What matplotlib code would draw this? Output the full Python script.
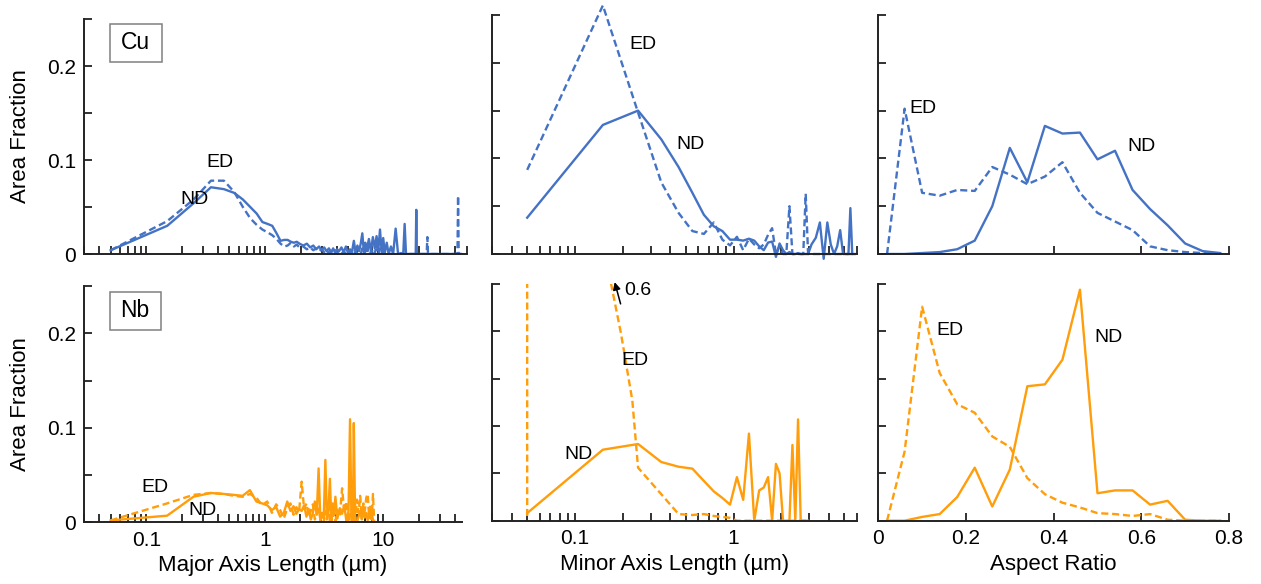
import numpy as np
import matplotlib.pyplot as plt
from matplotlib.ticker import LogLocator, NullFormatter
from matplotlib.patches import Rectangle

plt.rcParams['font.family'] = ['Liberation Sans', 'DejaVu Sans']

BLUE = '#4472C4'
ORANGE = '#FF9D0A'

# ---- Cu, major axis length (um) ----
cu_major_x = [0.05, 0.15, 0.25, 0.35, 0.45, 0.55, 0.65, 0.75, 0.85, 0.95,
              1.05, 1.15, 1.25, 1.35, 1.45, 1.55, 1.65, 1.75, 1.85, 1.95,
              2.1, 2.25, 2.4, 2.55, 2.7, 2.85, 3.0, 3.15, 3.3, 3.45,
              3.6, 3.75, 3.9, 4.05, 4.2, 4.4, 4.6, 4.8, 5.0, 5.2,
              5.4, 5.6, 5.8, 6.0, 6.2, 6.4, 6.6, 6.8, 7.0, 7.2,
              7.5, 7.8, 8.1, 8.4, 8.7, 9.0, 9.3, 9.6, 9.9, 10.2,
              10.6, 11.0, 11.5, 12.0, 12.6, 13.2, 14.0, 14.6, 15.0, 15.4,
              16.5, 18.0, 18.6, 18.8, 19.0, 20.5, 22.5, 23.0, 23.3, 23.6,
              26.0, 32.0, 38.0, 41.8, 42.3, 42.8, 45.0]
cu_major_nd = [0.004, 0.030, 0.054, 0.071, 0.069, 0.065, 0.058, 0.050, 0.043, 0.034,
               0.032, 0.030, 0.022, 0.014, 0.015, 0.015, 0.013, 0.012, 0.013, 0.011,
               0.009, 0.011, 0.007, 0.009, 0.005, 0.008, 0.004, 0.007, 0.003, 0.006,
               0.002, 0.006, 0.001, 0.005, 0.003, 0.007, 0.002, 0.008, 0.001, 0.005,
               0.002, 0.014, 0.001, 0.009, 0.003, 0.011, 0.022, 0.002, 0.012, 0.005,
               0.016, 0.003, 0.018, 0.006, 0.019, 0.004, 0.026, 0.002, 0.017, 0.001,
               0.012, 0.000, 0.008, 0.000, 0.027, 0.000, 0.001, 0.000, 0.032, 0.000,
               0.000, 0.000, 0.000, 0.047, 0.000, 0.000, 0.000, 0.000, 0.000, 0.000,
               0.000, 0.000, 0.000, 0.000, 0.000, 0.000, 0.000]
cu_major_ed = [0.004, 0.035, 0.058, 0.078, 0.078, 0.066, 0.050, 0.038, 0.031, 0.026,
               0.023, 0.020, 0.016, 0.011, 0.008, 0.009, 0.012, 0.008, 0.010, 0.007,
               0.008, 0.005, 0.007, 0.004, 0.006, 0.003, 0.005, 0.002, 0.004, 0.001,
               0.003, 0.001, 0.004, 0.000, 0.002, 0.000, 0.003, 0.000, 0.002, 0.000,
               0.004, 0.000, 0.003, 0.000, 0.002, 0.000, 0.006, 0.000, 0.004, 0.000,
               0.008, 0.000, 0.005, 0.000, 0.010, 0.000, 0.006, 0.000, 0.004, 0.000,
               0.000, 0.000, 0.000, 0.000, 0.000, 0.000, 0.000, 0.000, 0.000, 0.000,
               0.000, 0.000, 0.000, 0.000, 0.000, 0.000, 0.000, 0.000, 0.018, 0.000,
               0.000, 0.000, 0.000, 0.000, 0.062, 0.000, 0.000]

# ---- Cu, minor axis length (um) ----
cu_minor_x = [0.05, 0.15, 0.25, 0.35, 0.45, 0.55, 0.65, 0.75, 0.85, 0.95,
              1.05, 1.15, 1.25, 1.35, 1.45, 1.55, 1.65, 1.75, 1.85, 1.95,
              2.05, 2.15, 2.25, 2.35, 2.45, 2.55, 2.65, 2.75, 2.85, 2.95,
              3.1, 3.3, 3.5, 3.7, 3.9, 4.1, 4.3, 4.5, 4.7, 4.9,
              5.1, 5.3, 5.45, 5.6, 5.8]
cu_minor_nd = [0.038, 0.135, 0.150, 0.120, 0.091, 0.064, 0.041, 0.029, 0.024, 0.015,
               0.015, 0.014, 0.016, 0.014, 0.008, 0.004, 0.012, 0.013, -0.003, 0.011,
               0.004, 0.000, 0.002, 0.000, 0.000, 0.001, 0.000, 0.000, 0.000, 0.000,
               0.010, 0.017, 0.033, -0.005, 0.033, 0.010, 0.000, 0.008, 0.025, 0.000,
               0.000, 0.000, 0.048, 0.000, 0.000]
cu_minor_ed = [0.088, 0.260, 0.148, 0.075, 0.043, 0.024, 0.021, 0.033, 0.015, 0.009,
               0.018, 0.004, 0.016, 0.010, 0.006, 0.010, 0.020, 0.027, 0.000, 0.008,
               0.000, 0.000, 0.050, 0.000, 0.000, 0.000, 0.000, 0.000, 0.063, 0.000,
               0.000, 0.000, 0.000, 0.000, 0.000, 0.000, 0.000, 0.000, 0.000, 0.000,
               0.000, 0.000, 0.000, 0.000, 0.000]

# ---- aspect ratio bins ----
ar_x = [0.02, 0.06, 0.10, 0.14, 0.18, 0.22, 0.26, 0.30, 0.34, 0.38,
        0.42, 0.46, 0.50, 0.54, 0.58, 0.62, 0.66, 0.70, 0.74, 0.78]
cu_ar_nd = [0.000, 0.000, 0.001, 0.002, 0.005, 0.014, 0.050, 0.111, 0.075, 0.134,
            0.126, 0.127, 0.099, 0.108, 0.067, 0.047, 0.030, 0.011, 0.003, 0.001]
cu_ar_ed = [0.000, 0.152, 0.064, 0.061, 0.067, 0.066, 0.091, 0.083, 0.073, 0.081,
            0.096, 0.064, 0.043, 0.034, 0.025, 0.008, 0.004, 0.002, 0.001, 0.000]
nb_ar_nd = [0.000, 0.000, 0.004, 0.007, 0.025, 0.056, 0.015, 0.054, 0.142, 0.144,
            0.170, 0.244, 0.029, 0.032, 0.032, 0.017, 0.021, 0.001, 0.000, 0.000]
nb_ar_ed = [0.000, 0.073, 0.226, 0.156, 0.123, 0.114, 0.089, 0.078, 0.045, 0.028,
            0.019, 0.014, 0.008, 0.007, 0.005, 0.007, 0.001, 0.000, 0.000, 0.000]

# ---- Nb, major axis length (um) ----
nb_major_x = [0.05, 0.15, 0.25, 0.35, 0.45, 0.55, 0.65, 0.75, 0.85, 0.95,
              1.05, 1.15, 1.25, 1.35, 1.45, 1.55, 1.65, 1.75, 1.85, 1.95,
              2.05, 2.15, 2.25, 2.35, 2.45, 2.55, 2.65, 2.75, 2.85, 2.95,
              3.05, 3.15, 3.25, 3.35, 3.45, 3.55, 3.65, 3.75, 3.85, 3.95,
              4.1, 4.3, 4.5, 4.7, 4.9, 5.1, 5.25, 5.4, 5.55, 5.65,
              5.8, 6.0, 6.2, 6.4, 6.6, 6.8, 7.0, 7.2, 7.4, 7.6,
              7.8, 8.0, 8.2, 8.4]
nb_major_nd = [0.002, 0.007, 0.027, 0.031, 0.030, 0.029, 0.028, 0.034, 0.022, 0.020,
               0.018, 0.013, 0.016, 0.006, 0.010, 0.022, 0.012, 0.017, 0.009, 0.014,
               0.012, 0.018, 0.006, 0.014, 0.003, 0.010, 0.022, 0.008, 0.057, 0.002,
               0.010, 0.004, 0.066, 0.003, 0.012, 0.046, 0.001, 0.020, 0.008, 0.027,
               0.004, 0.015, 0.009, 0.018, 0.000, 0.012, 0.109, 0.000, 0.000, 0.105,
               0.000, 0.000, 0.006, 0.012, 0.003, 0.014, 0.005, 0.010, 0.002, 0.008,
               0.004, 0.011, 0.002, 0.000]
nb_major_ed = [0.002, 0.020, 0.029, 0.031, 0.030, 0.028, 0.027, 0.030, 0.026, 0.018,
               0.022, 0.010, 0.019, 0.013, 0.004, 0.015, 0.020, 0.008, 0.016, 0.011,
               0.043, 0.014, 0.020, 0.006, 0.012, 0.019, 0.003, 0.010, 0.016, 0.002,
               0.008, 0.000, 0.012, 0.005, 0.019, 0.000, 0.014, 0.004, 0.010, 0.001,
               0.013, 0.006, 0.036, 0.010, 0.022, 0.000, 0.008, 0.014, 0.000, 0.005,
               0.000, 0.024, 0.010, 0.028, 0.004, 0.020, 0.012, 0.026, 0.030, 0.006,
               0.018, 0.003, 0.030, 0.000]

# ---- Nb, minor axis length (um) ----
nb_minor_x = [0.05, 0.15, 0.25, 0.35, 0.45, 0.55, 0.65, 0.75, 0.85, 0.95,
              1.05, 1.15, 1.25, 1.35, 1.45, 1.55, 1.65, 1.75, 1.85, 1.95,
              2.05, 2.15, 2.25, 2.35, 2.45, 2.55, 2.65, 2.75, 2.85, 2.95]
nb_minor_nd = [0.008, 0.075, 0.081, 0.062, 0.057, 0.055, 0.042, 0.031, 0.024, 0.017,
               0.046, 0.022, 0.092, 0.000, 0.032, 0.035, 0.046, 0.000, 0.060, 0.050,
               0.000, 0.000, 0.000, 0.080, 0.000, 0.107, 0.000, 0.000, 0.000, 0.000]
# ED goes off scale (peak 0.6)
nb_minor_ed_x = [0.05, 0.05, 0.16, 0.195, 0.23, 0.25, 0.35, 0.45, 0.55, 0.65,
                 0.75, 0.85, 0.95, 1.05, 1.5, 2.0, 2.5, 2.95]
nb_minor_ed = [0.005, 0.6, 0.27, 0.198, 0.127, 0.056, 0.028, 0.007, 0.006, 0.007,
               0.005, 0.004, 0.003, 0.000, 0.000, 0.000, 0.000, 0.000]

W, H = 1261, 584
fig = plt.figure(figsize=(W / 100, H / 100), dpi=100)

LABEL_FS = 16
TICK_FS = 15
NOTE_FS = 14


def add_ax(x0, x1, ytop, ybot):
    return fig.add_axes([x0 / W, 1 - ybot / H, (x1 - x0) / W, (ybot - ytop) / H])


def style(ax, ylabels=False):
    for s in ['top', 'right']:
        ax.spines[s].set_visible(False)
    for s in ['left', 'bottom']:
        ax.spines[s].set_linewidth(1.4)
        ax.spines[s].set_color('#222222')
    ax.set_ylim(0, 0.25)
    ax.set_yticks([0, 0.05, 0.1, 0.15, 0.2, 0.25])
    if ylabels:
        ax.set_yticklabels(['0', '', '0.1', '', '0.2', ''])
        ax.set_ylabel('Area Fraction', fontsize=LABEL_FS)
        ax.yaxis.set_label_coords(-0.14, 0.5)
    else:
        ax.set_yticklabels([])
    ax.tick_params(which='both', direction='in', length=6, width=1.3,
                   labelsize=TICK_FS, pad=6, color='#222222')


def log_axis(ax, lo, hi, labels):
    ax.set_xscale('log')
    ax.set_xlim(lo, hi)
    ax.set_xticks([0.1, 1, 10] if hi > 10 else [0.1, 1])
    ax.xaxis.set_minor_locator(LogLocator(base=10, subs=np.arange(2, 10)))
    ax.xaxis.set_minor_formatter(NullFormatter())
    if labels:
        ax.set_xticklabels(['0.1', '1', '10'] if hi > 10 else ['0.1', '1'])
    else:
        ax.set_xticklabels([])


def lines(ax, x_nd, nd, x_ed, ed, color, clip=True):
    ax.plot(x_nd, nd, color=color, lw=1.7, clip_on=clip)
    ax.plot(x_ed, ed, color=color, lw=1.7, ls=(0, (3, 1.6)), clip_on=clip)


def tag(ax, name, y0, y1):
    ax.add_patch(Rectangle((0.067, y0), 0.136, y1 - y0, transform=ax.transAxes,
                           fill=False, edgecolor='#808080', lw=1.1))
    ax.text(0.135, (y0 + y1) / 2, name, transform=ax.transAxes, fontsize=16.5,
            ha='center', va='center')


# ---------- top row: Cu ----------
ax1 = add_ax(84.3, 466.7, 19, 254)
style(ax1, ylabels=True)
log_axis(ax1, 0.03, 50, False)
lines(ax1, cu_major_x, cu_major_nd, cu_major_x, cu_major_ed, BLUE)
tag(ax1, 'Cu', 0.817, 0.979)
ax1.text(0.42, 0.097, 'ED', fontsize=NOTE_FS, ha='center', va='center')
ax1.text(0.256, 0.058, 'ND', fontsize=NOTE_FS, ha='center', va='center')

ax2 = add_ax(492, 857, 15, 254)
style(ax2)
log_axis(ax2, 0.03, 6, False)
lines(ax2, cu_minor_x, cu_minor_nd, cu_minor_x, cu_minor_ed, BLUE, clip=False)
ax2.text(0.268, 0.219, 'ED', fontsize=NOTE_FS, ha='center', va='center')
ax2.text(0.536, 0.115, 'ND', fontsize=NOTE_FS, ha='center', va='center')

ax3 = add_ax(878.3, 1229, 15, 254)
style(ax3)
ax3.set_xlim(0, 0.8)
ax3.set_xticks([0, 0.2, 0.4, 0.6, 0.8])
ax3.set_xticklabels([])
lines(ax3, ar_x, cu_ar_nd, ar_x, cu_ar_ed, BLUE)
ax3.text(0.072, 0.152, 'ED', fontsize=NOTE_FS, ha='left', va='center')
ax3.text(0.60, 0.112, 'ND', fontsize=NOTE_FS, ha='center', va='center')

# ---------- bottom row: Nb ----------
ax4 = add_ax(84.3, 461.7, 286, 522.3)
style(ax4, ylabels=True)
log_axis(ax4, 0.03, 46, True)
lines(ax4, nb_major_x, nb_major_nd, nb_major_x, nb_major_ed, ORANGE)
tag(ax4, 'Nb', 0.814, 0.976)
ax4.text(0.118, 0.037, 'ED', fontsize=NOTE_FS, ha='center', va='center')
ax4.text(0.30, 0.013, 'ND', fontsize=NOTE_FS, ha='center', va='center')
ax4.set_xlabel('Major Axis Length (µm)', fontsize=LABEL_FS, labelpad=4)

ax5 = add_ax(492, 857, 284, 520.7)
style(ax5)
log_axis(ax5, 0.03, 6, True)
lines(ax5, nb_minor_x, nb_minor_nd, nb_minor_ed_x, nb_minor_ed, ORANGE)
ax5.text(0.238, 0.169, 'ED', fontsize=NOTE_FS, ha='center', va='center')
ax5.text(0.106, 0.070, 'ND', fontsize=NOTE_FS, ha='center', va='center')
ax5.annotate('', xy=(0.178, 0.252), xytext=(0.194, 0.229), annotation_clip=False,
             arrowprops=dict(arrowstyle='-|>', color='black', lw=1.1,
                             mutation_scale=11, shrinkA=0, shrinkB=0))
ax5.text(0.205, 0.243, '0.6', fontsize=NOTE_FS, ha='left', va='center')
ax5.set_xlabel('Minor Axis Length (µm)', fontsize=LABEL_FS, labelpad=4)

ax6 = add_ax(878.3, 1229, 284, 520.7)
style(ax6)
ax6.set_xlim(0, 0.8)
ax6.set_xticks([0, 0.2, 0.4, 0.6, 0.8])
ax6.set_xticklabels(['0', '0.2', '0.4', '0.6', '0.8'])
lines(ax6, ar_x, nb_ar_nd, ar_x, nb_ar_ed, ORANGE)
ax6.text(0.164, 0.201, 'ED', fontsize=NOTE_FS, ha='center', va='center')
ax6.text(0.525, 0.194, 'ND', fontsize=NOTE_FS, ha='center', va='center')
ax6.set_xlabel('Aspect Ratio', fontsize=LABEL_FS, labelpad=4)

fig.savefig('out.png', dpi=100)
